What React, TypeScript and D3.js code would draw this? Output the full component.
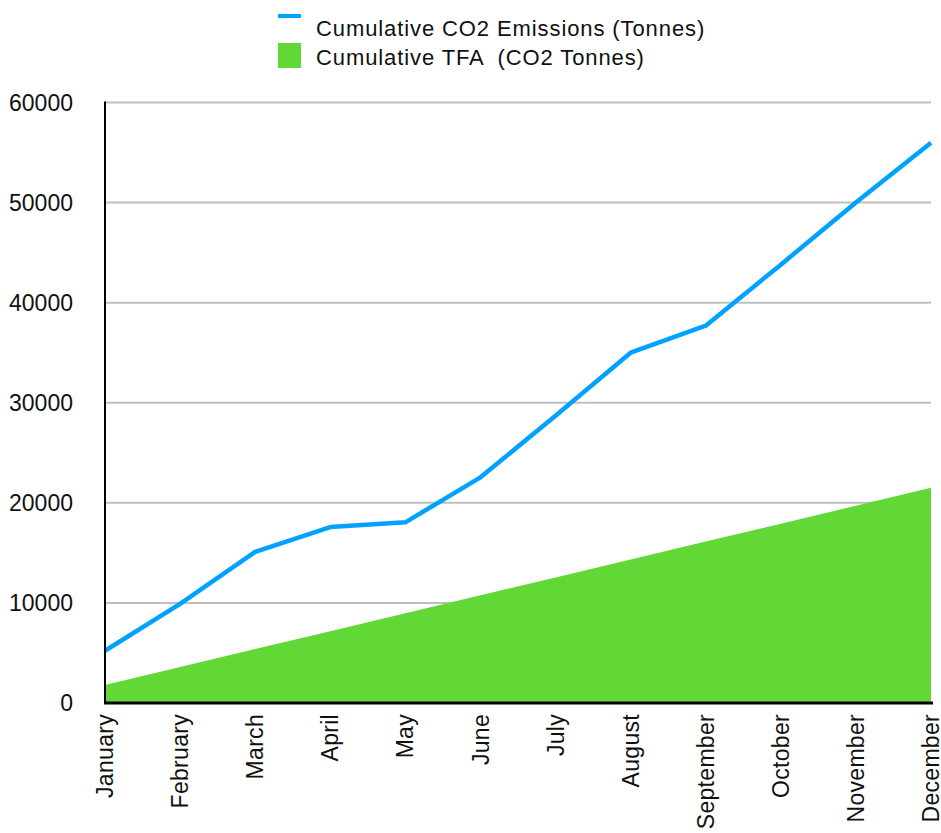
import React from "react";
import * as d3 from "d3";

const months = [
  "January", "February", "March", "April", "May", "June",
  "July", "August", "September", "October", "November", "December",
];
const emissions = [5220, 9900, 15100, 17580, 18050, 22550, 28700, 35000, 37700, 43800, 50000, 55980];
const tfa = [1810, 3600, 5390, 7180, 8970, 10760, 12550, 14340, 16130, 17920, 19710, 21500];
const yTicks = [0, 10000, 20000, 30000, 40000, 50000, 60000];
const legendLabels = ["Cumulative CO2 Emissions (Tonnes)", "Cumulative TFA  (CO2 Tonnes)"];

const W = 941;
const H = 833;
const left = 105;
const right = 931;
const top = 102.5;
const bottom = 703;

const BLUE = "#00a2ff";
const GREEN = "#61d836";
const FONT = "'Liberation Sans', Arial, Helvetica, sans-serif";

export default function App() {
  const x = d3.scalePoint<string>().domain(months).range([left, right]);
  const y = d3.scaleLinear().domain([0, 60000]).range([bottom, top]);

  const rows = months.map((m, i) => ({ m, e: emissions[i], t: tfa[i] }));

  const area = d3
    .area<{ m: string; e: number; t: number }>()
    .x((d) => x(d.m)!)
    .y0(y(0))
    .y1((d) => y(d.t))(rows)!;

  const line = d3
    .line<{ m: string; e: number; t: number }>()
    .x((d) => x(d.m)!)
    .y((d) => y(d.e))(rows)!;

  return (
    <svg
      width={W}
      height={H}
      style={{ position: "absolute", left: 0, top: 0, background: "#fff" }}
      fontFamily={FONT}
    >
      {/* legend */}
      <rect x={278} y={14} width={23} height={4} fill={BLUE} />
      <rect x={278} y={43} width={23} height={25} fill={GREEN} />
      {legendLabels.map((label, i) => (
        <text
          key={label}
          x={316}
          y={36 + i * 29}
          fontSize={22}
          letterSpacing={0.9}
          fill="#111"
          style={{ whiteSpace: "pre" }}
        >
          {label}
        </text>
      ))}

      {/* gridlines */}
      {yTicks.filter((t) => t > 0).map((t) => (
        <line key={t} x1={left} x2={right} y1={y(t)} y2={y(t)} stroke="#bfbfbf" strokeWidth={2} />
      ))}

      {/* y tick labels */}
      {yTicks.map((t) => (
        <text
          key={t}
          x={73}
          y={y(t)}
          dy="0.35em"
          textAnchor="end"
          fontSize={23}
          fill="#111"
        >
          {t}
        </text>
      ))}

      {/* TFA area */}
      <path d={area} fill={GREEN} />

      {/* emissions line */}
      <path d={line} fill="none" stroke={BLUE} strokeWidth={4.5} strokeLinejoin="round" />

      {/* axes */}
      <line x1={left} x2={left} y1={top - 1} y2={bottom} stroke="#000" strokeWidth={2} />
      <line x1={left - 1} x2={right + 2} y1={bottom} y2={bottom} stroke="#000" strokeWidth={3} />

      {/* x tick labels */}
      {months.map((m) => (
        <text
          key={m}
          transform={`translate(${x(m)},${714}) rotate(-90)`}
          dy="0.35em"
          textAnchor="end"
          fontSize={23}
          letterSpacing={0.3}
          fill="#111"
        >
          {m}
        </text>
      ))}
    </svg>
  );
}
